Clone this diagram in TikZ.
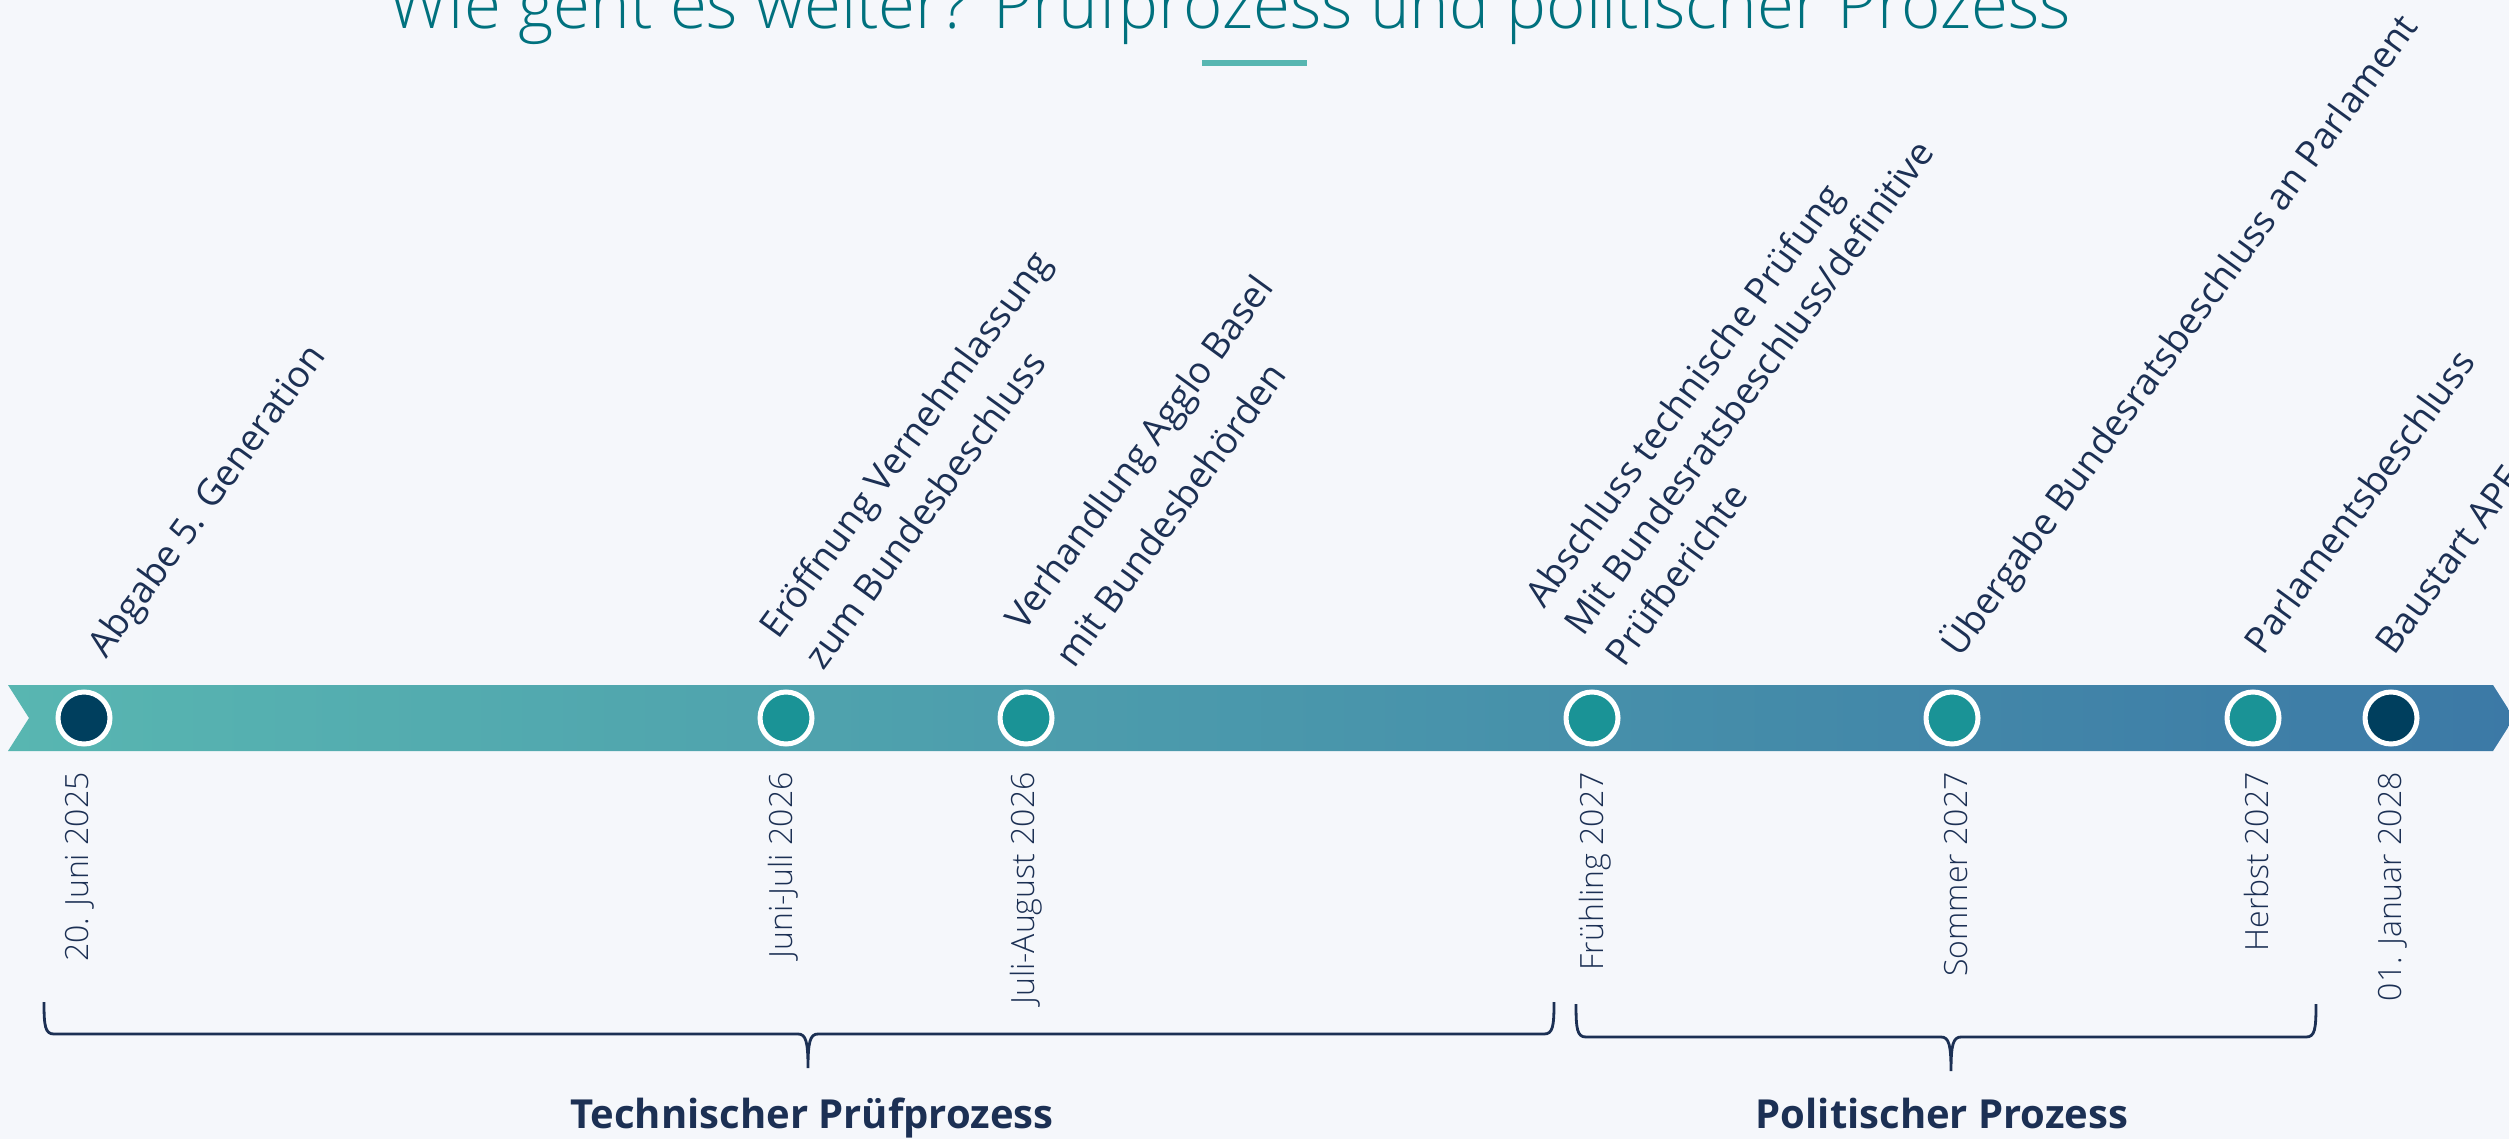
\documentclass[tikz,border=0pt]{standalone}
\usepackage{fontspec}
\setmainfont{Open Sans}
\IfFontExistsTF{Open Sans Light}{\newfontfamily\lightfont{Open Sans Light}}{\newfontfamily\lightfont{Open Sans}}
\definecolor{bg}{HTML}{F5F7FB}
\definecolor{navy}{HTML}{1C3054}
\definecolor{titlec}{HTML}{00717E}
\definecolor{accent}{HTML}{57B6B1}
\definecolor{bandl}{HTML}{58B6B1}
\definecolor{bandr}{HTML}{3C79A6}
\definecolor{dotdark}{HTML}{003F5E}
\definecolor{dotteal}{HTML}{1A9396}
\begin{document}
\begin{tikzpicture}[x=0.5pt,y=-0.5pt,
  lbl/.style={rotate=54, anchor=base west, inner sep=0pt, text=navy, font=\fontsize{18.4}{22}\selectfont},
  datelbl/.style={rotate=90, anchor=east, inner sep=0pt, text=navy, font=\lightfont\fontsize{16}{19}\selectfont},
  ms/.style={circle, draw=white, line width=2.5pt, minimum size=26pt, inner sep=0pt},
  msdark/.style={ms, fill=dotdark},
  msteal/.style={ms, fill=dotteal},
  bracestyle/.style={draw=navy, line width=1.4pt},
  phase/.style={anchor=base, inner sep=0pt, text=navy, font=\fontsize{20}{24}\selectfont\bfseries}]
\useasboundingbox (0,0) rectangle (2509,1139);
\fill[bg] (0,0) rectangle (2509,1139);
% title
\node[anchor=base, inner sep=0pt, text=titlec, font=\lightfont\fontsize{33.6}{38}\selectfont] (title) at (1230,29) {Wie geht es weiter? Prüfprozess und politischer Prozess};
\fill[accent] (1202,60) rectangle (1307,66);
% band
\shade[left color=bandl, right color=bandr] (8,685) -- (2493,685) -- (2514,718) -- (2493,751) -- (8,751) -- (29,718) -- cycle;
% milestones
\node[msdark] (m1) at (84,718) {};
\node[msteal] (m2) at (786,718) {};
\node[msteal] (m3) at (1026,718) {};
\node[msteal] (m4) at (1592,718) {};
\node[msteal] (m5) at (1952,718) {};
\node[msteal] (m6) at (2253,718) {};
\node[msdark] (m7) at (2391,718) {};
% dates
\node[datelbl] (d1) at (80,772) {20. Juni 2025};
\node[datelbl] (d2) at (783,772) {Juni-Juli 2026};
\node[datelbl] (d3) at (1026,772) {Juli-August 2026};
\node[datelbl] (d4) at (1595,772) {Frühling 2027};
\node[datelbl] (d5) at (1956,772) {Sommer 2027};
\node[datelbl] (d6) at (2256,772) {Herbst 2027};
\node[datelbl] (d7) at (2393,772) {01. Januar 2028};
% upper labels
\node[lbl] (t1) at (106,660) {Abgabe 5. Generation};
\node[lbl] (t2a) at (778,641) {Eröffnung Vernehmlassung};
\node[lbl] (t2b) at (823,672) {zum Bundesbeschluss};
\node[lbl] (t3a) at (1024,633) {Verhandlung Agglo Basel};
\node[lbl] (t3b) at (1074,670) {mit Bundesbehörden};
\node[lbl] (t4a) at (1544,610) {Abschluss technische Prüfung};
\node[lbl] (t4b) at (1583,638) {Mit Bundesratsbeschluss/definitive};
\node[lbl] (t4c) at (1624,669) {Prüfberichte};
\node[lbl] (t5) at (1960,659) {Übergabe Bundesratsbeschluss an Parlament};
\node[lbl] (t6) at (2263,657) {Parlamentsbeschluss};
\node[lbl] (t7) at (2394,657) {Baustart APE};
% braces
\draw[bracestyle] (44,1002) .. controls (44,1026) and (45,1034) .. (54,1034) -- (798,1034)
  .. controls (806,1034) and (808,1042) .. (808,1068)
  .. controls (808,1042) and (810,1034) .. (818,1034) -- (1544,1034)
  .. controls (1553,1034) and (1554,1026) .. (1554,1002);
\draw[bracestyle] (1576,1004) .. controls (1576,1029) and (1577,1037) .. (1586,1037) -- (1941,1037)
  .. controls (1949,1037) and (1951,1045) .. (1951,1071)
  .. controls (1951,1045) and (1953,1037) .. (1961,1037) -- (2306,1037)
  .. controls (2315,1037) and (2316,1029) .. (2316,1004);
\node[phase] (p1) at (812,1128) {Technischer Prüfprozess};
\node[phase] (p2) at (1942,1128) {Politischer Prozess};
\end{tikzpicture}
\end{document}
